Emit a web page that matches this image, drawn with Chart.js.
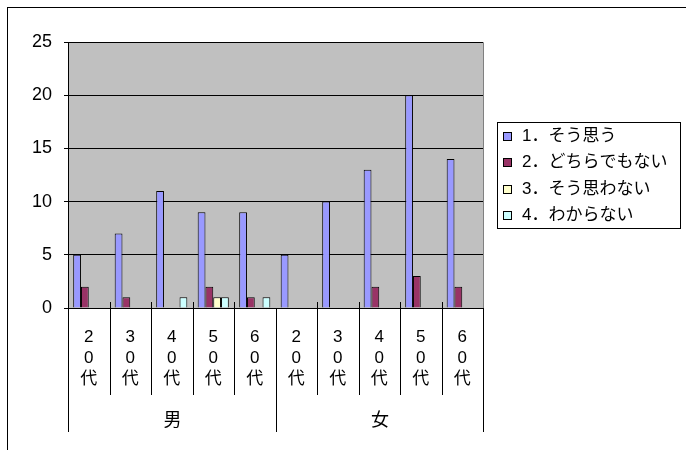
<!DOCTYPE html>
<html>
<head>
<meta charset="utf-8">
<script src="https://cdn.jsdelivr.net/npm/chart.js@4/dist/chart.umd.min.js"></script>
<style>
body { margin: 0; background: #fff; }
</style>
</head>
<body>
<canvas id="myChart" width="686" height="450"></canvas>
<script>
// category labels (one char per line, like the original)
const ageLabels = [
    ['2', '0', '代'], ['3', '0', '代'], ['4', '0', '代'], ['5', '0', '代'], ['6', '0', '代'],
    ['2', '0', '代'], ['3', '0', '代'], ['4', '0', '代'], ['5', '0', '代'], ['6', '0', '代']
];
const groupLabels = ['男', '女'];
const groupSize = 5;
const seriesNames = ['1．そう思う', '2．どちらでもない', '3．そう思わない', '4．わからない'];
const seriesColors = ['#9999FF', '#993366', '#FFFFCC', '#CCFFFF'];

const agree    = [5, 7, 11, 9, 9, 5, 10, 13, 20, 14];
const neutral  = [2, 1, 0, 2, 1, 0, 0, 2, 3, 2];
const disagree = [0, 0, 0, 1, 0, 0, 0, 0, 0, 0];
const unknown  = [0, 0, 1, 1, 1, 0, 0, 0, 0, 0];

const yTicks = { min: 0, max: 25, step: 5 };

const FONT = '"Liberation Sans", "Noto Sans CJK JP", sans-serif';
Chart.defaults.font.family = FONT;
Chart.defaults.color = '#000';

let seriesValues = [agree, neutral, disagree, unknown];
let datasets = seriesNames.map((name, i) => ({
    label: name,
    data: seriesValues[i],
    backgroundColor: seriesColors[i],
    borderColor: '#000',
    borderWidth: ctx => (ctx.raw === 0 ? 0 : 1),
    categoryPercentage: 0.75,
    barPercentage: 1
}));

// grey plot area, outer frame, category separators, group labels, legend box
const excelLook = {
    id: 'excelLook',
    beforeDraw(chart) {
        const c = chart.ctx, a = chart.chartArea;
        c.save();
        c.fillStyle = '#fff';
        c.fillRect(0, 0, chart.width, chart.height);
        c.strokeStyle = '#000';
        c.lineWidth = 1;
        c.strokeRect(7.5, 7.5, chart.width + 20, chart.height + 20);
        c.fillStyle = '#C0C0C0';
        c.fillRect(a.left, a.top, a.right - a.left, a.bottom - a.top);
        c.strokeStyle = '#808080';
        c.beginPath();
        c.moveTo(a.left, a.top + 0.5);
        c.lineTo(a.right + 0.5, a.top + 0.5);
        c.lineTo(a.right + 0.5, a.bottom);
        c.stroke();
        c.restore();
    },
    afterDraw(chart) {
        const c = chart.ctx, a = chart.chartArea;
        const xs = chart.scales.x;
        const n = chart.data.labels.length;
        let edges = [];
        for (let i = 0; i <= n; i++) {
            let x;
            if (i == 0) x = a.left;
            else if (i == n) x = a.right;
            else x = (xs.getPixelForValue(i - 1) + xs.getPixelForValue(i)) / 2;
            edges.push(Math.round(x) + 0.5);
        }
        c.save();
        c.strokeStyle = '#000';
        c.lineWidth = 1;
        edges.forEach((x, i) => {
            let isGroup = (i % groupSize == 0);
            c.beginPath();
            c.moveTo(x, isGroup ? a.bottom : a.bottom - 6);
            c.lineTo(x, isGroup ? 432 : 395);
            c.stroke();
        });
        c.fillStyle = '#000';
        c.font = '18px ' + FONT;
        c.textAlign = 'center';
        c.textBaseline = 'middle';
        groupLabels.forEach((g, gi) => {
            let x0 = edges[gi * groupSize], x1 = edges[(gi + 1) * groupSize];
            c.fillText(g, (x0 + x1) / 2, 421);
        });

        // legend
        c.strokeRect(497.5, 122.5, 183, 106);
        c.font = '17px ' + FONT;
        c.textAlign = 'left';
        chart.data.datasets.forEach((ds, i) => {
            let y = 136 + i * 26.5;
            c.fillStyle = ds.backgroundColor;
            c.fillRect(503, Math.round(y - 4.5), 9, 9);
            c.strokeRect(503.5, Math.round(y - 4.5) + 0.5, 8, 8);
            c.fillStyle = '#000';
            c.fillText(ds.label, 522, y);
        });
        c.restore();
    }
};

var ctx = document.getElementById('myChart').getContext('2d');
var barChart = new Chart(ctx, {
    type: 'bar',
    data: {
        labels: ageLabels,
        datasets: datasets
    },
    options: {
        responsive: false,
        animation: false,
        devicePixelRatio: 1,
        layout: { padding: { left: 0, top: 42, right: 203, bottom: 0 } },
        plugins: {
            legend: { display: false },
            tooltip: { enabled: false }
        },
        scales: {
            x: {
                grid: { display: false, drawTicks: false },
                border: { display: true, color: '#000' },
                ticks: {
                    autoSkip: false,
                    maxRotation: 0,
                    padding: 19,
                    font: { size: 17, lineHeight: '21px' },
                    color: '#000'
                },
                afterFit: s => { s.height = 142; }
            },
            y: {
                min: yTicks.min,
                max: yTicks.max,
                ticks: { stepSize: yTicks.step, padding: 12, font: { size: 18 }, color: '#000' },
                grid: { color: '#000', tickLength: 4, drawTicks: true },
                border: { display: true, color: '#000' },
                afterFit: s => { s.width = 68; }
            }
        }
    },
    plugins: [excelLook]
});
</script>
</body>
</html>
